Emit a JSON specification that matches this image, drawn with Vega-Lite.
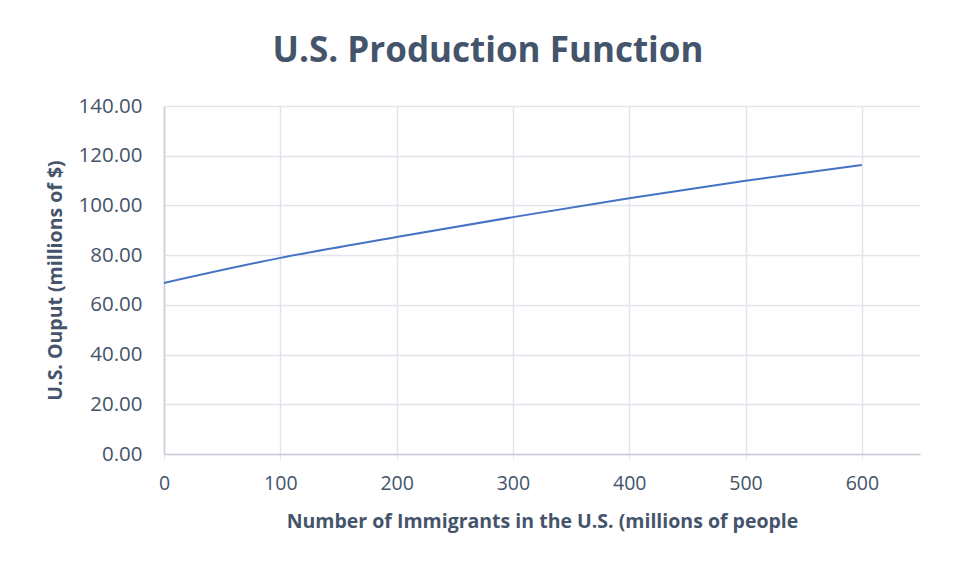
{
  "$schema": "https://vega.github.io/schema/vega-lite/v6.json",
  "width": 756,
  "height": 348,
  "autosize": {"type": "none"},
  "padding": {"left": 164, "top": 106, "right": 49, "bottom": 113},
  "background": "white",
  "title": {
    "text": "U.S. Production Function",
    "frame": "group",
    "anchor": "middle",
    "dx": -54,
    "offset": 27,
    "font": "Open Sans",
    "fontSize": 35,
    "fontWeight": "bold",
    "color": "#44546A"
  },
  "data": {
    "values": [
      {"immigrants": 0, "output": 68.8},
      {"immigrants": 100, "output": 78.9},
      {"immigrants": 200, "output": 87.3},
      {"immigrants": 300, "output": 95.3},
      {"immigrants": 400, "output": 102.9},
      {"immigrants": 500, "output": 109.9},
      {"immigrants": 600, "output": 116.3}
    ]
  },
  "mark": {"type": "line", "color": "#4472C4", "strokeWidth": 2, "interpolate": "monotone"},
  "encoding": {
    "x": {
      "field": "immigrants",
      "type": "quantitative",
      "scale": {"domain": [0, 650], "nice": false},
      "axis": {
        "title": "Number of Immigrants in the U.S. (millions of people",
        "values": [0, 100, 200, 300, 400, 500, 600],
        "format": "d",
        "labelFlush": false,
        "grid": true,
        "gridColor": "#E1E5EB",
        "gridWidth": 1.5,
        "domainColor": "#C9CED6",
        "domainWidth": 1.5,
        "ticks": true,
        "tickSize": 5,
        "tickColor": "#E1E5EB",
        "labelPadding": 15,
        "labelFont": "Open Sans",
        "labelFontSize": 19.5,
        "labelColor": "#44546A",
        "titleFont": "Open Sans",
        "titleFontSize": 19.5,
        "titleFontWeight": "bold",
        "titleColor": "#44546A",
        "titlePadding": 20
      }
    },
    "y": {
      "field": "output",
      "type": "quantitative",
      "scale": {"domain": [0, 140], "nice": false},
      "axis": {
        "title": "U.S. Ouput (millions of $)",
        "values": [0, 20, 40, 60, 80, 100, 120, 140],
        "format": ".2f",
        "grid": true,
        "gridColor": "#E1E5EB",
        "gridWidth": 1.5,
        "domainColor": "#C9CED6",
        "domainWidth": 1.5,
        "ticks": false,
        "labelPadding": 22,
        "labelFont": "Open Sans",
        "labelFontSize": 20.5,
        "labelColor": "#44546A",
        "titleFont": "Open Sans",
        "titleFontSize": 19.5,
        "titleFontWeight": "bold",
        "titleColor": "#44546A",
        "titlePadding": 13
      }
    }
  },
  "config": {"view": {"stroke": null}}
}
